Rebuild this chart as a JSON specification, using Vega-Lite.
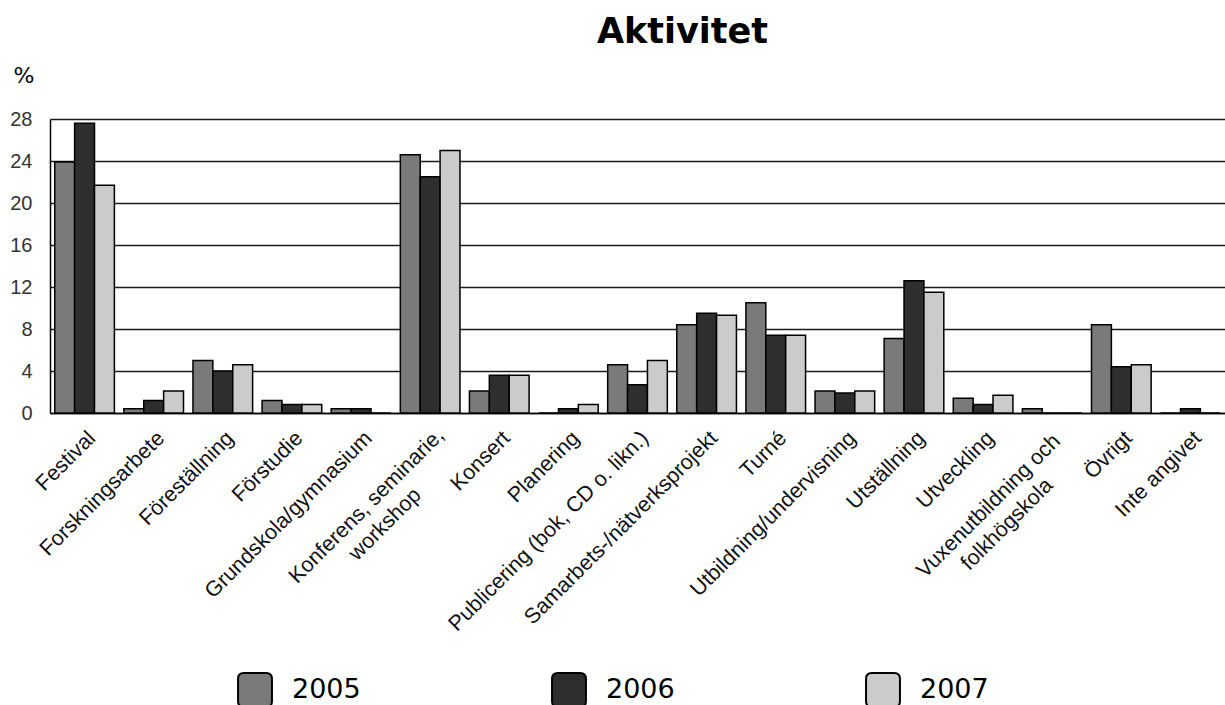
{
  "$schema": "https://vega.github.io/schema/vega-lite/v6.json",
  "autosize": "none",
  "padding": {"left": 50, "top": 119, "right": 0, "bottom": 292},
  "width": 1175,
  "height": 294,
  "background": "white",
  "title": {
    "text": "Aktivitet",
    "font": "DejaVu Sans",
    "fontSize": 35,
    "fontWeight": "bold",
    "color": "#000000",
    "anchor": "middle",
    "dx": 45,
    "offset": 14
  },
  "data": {
    "values": [
      {"c": "Festival", "year": "2005", "v": 23.9},
      {"c": "Festival", "year": "2006", "v": 27.6},
      {"c": "Festival", "year": "2007", "v": 21.7},
      {"c": "Forskningsarbete", "year": "2005", "v": 0.4},
      {"c": "Forskningsarbete", "year": "2006", "v": 1.2},
      {"c": "Forskningsarbete", "year": "2007", "v": 2.1},
      {"c": "Föreställning", "year": "2005", "v": 5.0},
      {"c": "Föreställning", "year": "2006", "v": 4.0},
      {"c": "Föreställning", "year": "2007", "v": 4.6},
      {"c": "Förstudie", "year": "2005", "v": 1.2},
      {"c": "Förstudie", "year": "2006", "v": 0.8},
      {"c": "Förstudie", "year": "2007", "v": 0.8},
      {"c": "Grundskola/gymnasium", "year": "2005", "v": 0.4},
      {"c": "Grundskola/gymnasium", "year": "2006", "v": 0.4},
      {"c": "Grundskola/gymnasium", "year": "2007", "v": 0},
      {"c": "Konferens, seminarie, workshop", "year": "2005", "v": 24.6},
      {"c": "Konferens, seminarie, workshop", "year": "2006", "v": 22.5},
      {"c": "Konferens, seminarie, workshop", "year": "2007", "v": 25.0},
      {"c": "Konsert", "year": "2005", "v": 2.1},
      {"c": "Konsert", "year": "2006", "v": 3.6},
      {"c": "Konsert", "year": "2007", "v": 3.6},
      {"c": "Planering", "year": "2005", "v": 0},
      {"c": "Planering", "year": "2006", "v": 0.4},
      {"c": "Planering", "year": "2007", "v": 0.8},
      {"c": "Publicering (bok, CD o. likn.)", "year": "2005", "v": 4.6},
      {"c": "Publicering (bok, CD o. likn.)", "year": "2006", "v": 2.7},
      {"c": "Publicering (bok, CD o. likn.)", "year": "2007", "v": 5.0},
      {"c": "Samarbets-/nätverksprojekt", "year": "2005", "v": 8.4},
      {"c": "Samarbets-/nätverksprojekt", "year": "2006", "v": 9.5},
      {"c": "Samarbets-/nätverksprojekt", "year": "2007", "v": 9.3},
      {"c": "Turné", "year": "2005", "v": 10.5},
      {"c": "Turné", "year": "2006", "v": 7.4},
      {"c": "Turné", "year": "2007", "v": 7.4},
      {"c": "Utbildning/undervisning", "year": "2005", "v": 2.1},
      {"c": "Utbildning/undervisning", "year": "2006", "v": 1.9},
      {"c": "Utbildning/undervisning", "year": "2007", "v": 2.1},
      {"c": "Utställning", "year": "2005", "v": 7.1},
      {"c": "Utställning", "year": "2006", "v": 12.6},
      {"c": "Utställning", "year": "2007", "v": 11.5},
      {"c": "Utveckling", "year": "2005", "v": 1.4},
      {"c": "Utveckling", "year": "2006", "v": 0.8},
      {"c": "Utveckling", "year": "2007", "v": 1.7},
      {"c": "Vuxenutbildning och folkhögskola", "year": "2005", "v": 0.4},
      {"c": "Vuxenutbildning och folkhögskola", "year": "2006", "v": 0},
      {"c": "Vuxenutbildning och folkhögskola", "year": "2007", "v": 0},
      {"c": "Övrigt", "year": "2005", "v": 8.4},
      {"c": "Övrigt", "year": "2006", "v": 4.4},
      {"c": "Övrigt", "year": "2007", "v": 4.6},
      {"c": "Inte angivet", "year": "2005", "v": 0},
      {"c": "Inte angivet", "year": "2006", "v": 0.4},
      {"c": "Inte angivet", "year": "2007", "v": 0}
    ]
  },
  "mark": {"type": "bar", "stroke": "#000000", "strokeWidth": 1.5},
  "encoding": {
    "x": {
      "field": "c",
      "type": "nominal",
      "sort": null,
      "scale": {"paddingInner": 0.137, "paddingOuter": 0.0685},
      "axis": {
        "title": null,
        "labelAngle": -45,
        "labelAlign": {"condition": {"test": "datum.value == 'Konferens, seminarie, workshop' || datum.value == 'Vuxenutbildning och folkhögskola'", "value": "center"}, "value": "right"},
        "labelOffset": {"condition": {"test": "datum.value == 'Konferens, seminarie, workshop' || datum.value == 'Vuxenutbildning och folkhögskola'", "value": -71}, "value": 0},
        "labelPadding": {"condition": {"test": "datum.value == 'Konferens, seminarie, workshop' || datum.value == 'Vuxenutbildning och folkhögskola'", "value": 85}, "value": 14},
        "labelBaseline": "top",
        "ticks": false,
        "labelFont": "Liberation Sans",
        "labelFontSize": 21.5,
        "labelColor": "#111111",
        "labelLimit": 500,
        "labelLineHeight": 26,
        "domainColor": "#000000",
        "domainWidth": 1.5,
        "labelExpr": "datum.value == 'Konferens, seminarie, workshop' ? ['Konferens, seminarie,', 'workshop'] : datum.value == 'Vuxenutbildning och folkhögskola' ? ['Vuxenutbildning och', 'folkhögskola'] : datum.value"
      }
    },
    "xOffset": {"field": "year", "type": "nominal", "scale": {"paddingInner": 0, "paddingOuter": 0}},
    "y": {
      "field": "v",
      "type": "quantitative",
      "scale": {"domain": [0, 28], "nice": false},
      "axis": {
        "values": [0, 4, 8, 12, 16, 20, 24, 28],
        "title": "%",
        "titleAngle": 0,
        "titleAlign": "left",
        "titleBaseline": "alphabetic",
        "titleX": -37,
        "titleY": -37,
        "titleFont": "DejaVu Sans",
        "titleFontSize": 22,
        "titleFontWeight": "normal",
        "titleColor": "#000000",
        "ticks": false,
        "labelPadding": 18,
        "labelFont": "Liberation Sans",
        "labelFontSize": 20,
        "labelColor": "#333333",
        "grid": true,
        "gridColor": "#1a1a1a",
        "gridWidth": 1.5,
        "domainColor": "#000000",
        "domainWidth": 1.5
      }
    },
    "color": {
      "field": "year",
      "type": "nominal",
      "scale": {"domain": ["2005", "2006", "2007"], "range": ["#7a7a7a", "#2e2e2e", "#cbcbcb"]},
      "legend": {
        "title": null,
        "orient": "none",
        "direction": "horizontal",
        "legendX": 187,
        "legendY": 553,
        "symbolType": "M-0.66,-1H0.66Q1,-1,1,-0.66V0.66Q1,1,0.66,1H-0.66Q-1,1,-1,0.66V-0.66Q-1,-1,-0.66,-1Z",
        "symbolSize": 1150,
        "symbolStrokeColor": "#000000",
        "symbolStrokeWidth": 2,
        "symbolOpacity": 1,
        "labelFont": "DejaVu Sans",
        "labelFontSize": 27,
        "labelColor": "#000000",
        "labelOffset": 19,
        "columnPadding": 187
      }
    }
  },
  "config": {
    "view": {"stroke": null}
  }
}
